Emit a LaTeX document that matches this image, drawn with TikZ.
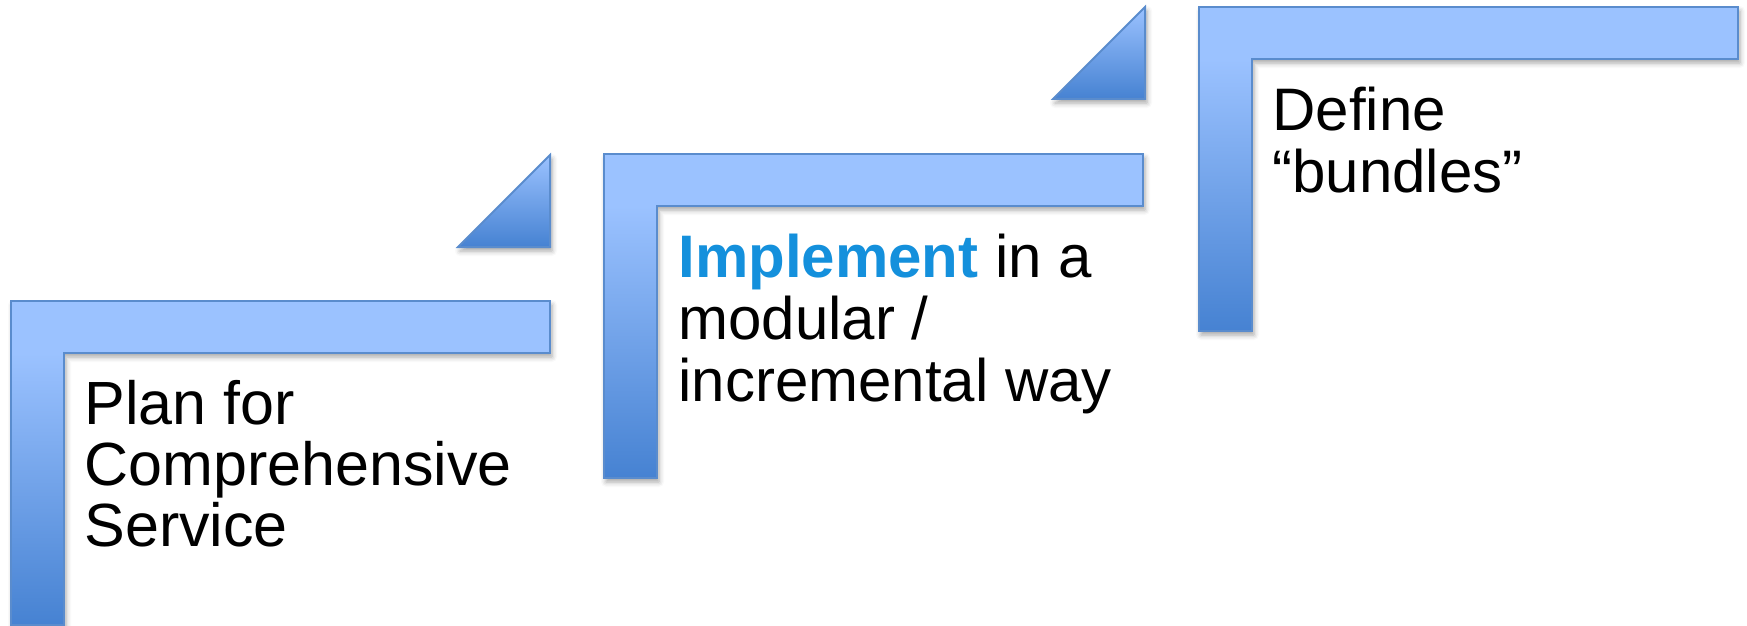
\documentclass[tikz,border=0pt]{standalone}
\usepackage{fontspec}
\setmainfont{Liberation Sans}
\usetikzlibrary{shadows.blur}
\definecolor{barlight}{HTML}{9BC2FF}
\definecolor{bardark}{HTML}{4682D2}
\definecolor{barline}{HTML}{5A8CCD}
\definecolor{keyblue}{HTML}{1490DC}
\tikzset{x=0.5pt, y=-0.5pt, % One unit is one pixel of the layout, y runs downwards
        stair shadow/.style={ % Soft shadow under every shape
            blur shadow={shadow xshift=1pt, shadow yshift=-2pt,
                shadow blur radius=2.5pt, shadow opacity=35}},
        stair outline/.style={ % Thin darker rim
            draw=barline,
            line width=1pt},
        stair/.pic={ % Flat top bar and shaded upright, one outline
            \fill[barlight, stair shadow]
                (0,0) -- (539,0) -- (539,52) -- (53,52) -- (53,324) -- (0,324) -- cycle;
            \shade[top color=barlight, bottom color=bardark] (0,52) rectangle (53,324);
            \draw[stair outline]
                (0,0) -- (539,0) -- (539,52) -- (53,52) -- (53,324) -- (0,324) -- cycle;
            },
        wedge/.pic={ % Small triangle, origin at its top corner
            \shade[top color=barlight, bottom color=bardark, stair outline, stair shadow]
                (0,0) -- (0,92) -- (-92,92) -- cycle;
            },
        steptext/.style={ % Text set inside each step, anchored at its last baseline
            anchor=base west,
            inner sep=0pt,
            align=left,
            font=\fontsize{30}{31}\selectfont}
        }

\begin{document}
\begin{tikzpicture}
    \useasboundingbox (0,0) rectangle (1747,626);

    \pic (plan) at (11,301) {stair};
    \pic (implement) at (604,154) {stair};
    \pic (define) at (1199,7) {stair};
    \pic (rise1) at (550,155) {wedge};
    \pic (rise2) at (1145,7) {wedge};

    \node[steptext, font=\fontsize{30.5}{30.5}\selectfont] (plantext) at (84,546)
        {Plan for\\Comprehensive\\Service};
    \node[steptext] (implementtext) at (678,401)
        {\textcolor{keyblue}{\bfseries Implement} in a\\modular /\\incremental way};
    \node[steptext] (definetext) at (1272,192) {Define\\“bundles”};
\end{tikzpicture}
\end{document}
